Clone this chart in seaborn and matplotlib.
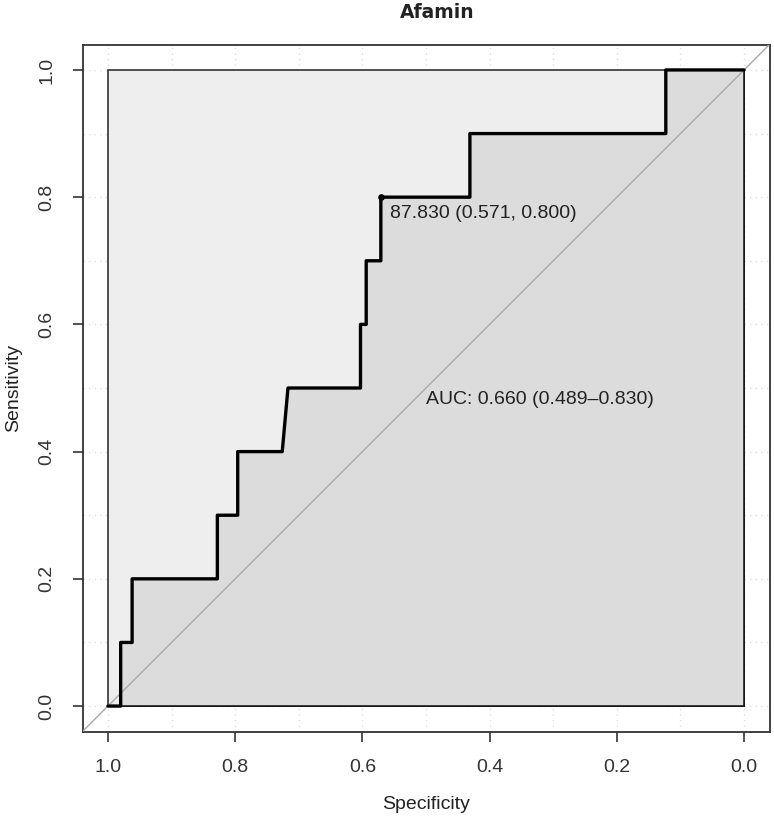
import matplotlib
matplotlib.use("Agg")
import matplotlib.pyplot as plt
import seaborn as sns
import pandas as pd
import numpy as np

# ---- data ----
specificity = [1.0, 0.980, 0.980, 0.962, 0.962, 0.828, 0.828, 0.796, 0.796,
               0.726, 0.717, 0.603, 0.603, 0.594, 0.594, 0.571, 0.571,
               0.431, 0.431, 0.123, 0.123, 0.0]
sensitivity = [0.0, 0.0, 0.1, 0.1, 0.2, 0.2, 0.3, 0.3, 0.4,
               0.4, 0.5, 0.5, 0.6, 0.6, 0.7, 0.7, 0.8,
               0.8, 0.9, 0.9, 1.0, 1.0]
best_spec = 0.571
best_sens = 0.800
best_threshold = 87.830
auc_value = 0.660
auc_ci = (0.489, 0.830)
x_ticks = [1.0, 0.8, 0.6, 0.4, 0.2, 0.0]
y_ticks = [0.0, 0.2, 0.4, 0.6, 0.8, 1.0]
grid_vals = [round(v * 0.1, 1) for v in range(11)]
title = "Afamin"

df = pd.DataFrame({"Specificity": specificity, "Sensitivity": sensitivity})

sns.set_style("ticks")
plt.rcParams["font.family"] = ["Liberation Sans", "DejaVu Sans"]
plt.rcParams["text.color"] = "#222222"
plt.rcParams["axes.labelcolor"] = "#222222"
plt.rcParams["xtick.color"] = "#333333"
plt.rcParams["ytick.color"] = "#333333"

fig = plt.figure(figsize=(7.74, 8.17), dpi=100)
ax = fig.add_axes([82.5 / 774, (817 - 731.5) / 817, 687 / 774, 687 / 817])

ax.set_xlim(1.04, -0.04)
ax.set_ylim(-0.04, 1.04)

# grid (dotted, beneath everything)
for g in grid_vals:
    ax.axvline(g, color="#DDDDDD", lw=1.0, ls=(0, (1, 3)), zorder=0)
    ax.axhline(g, color="#DDDDDD", lw=1.0, ls=(0, (1, 3)), zorder=0)

# max AUC polygon
ax.fill([1, 1, 0, 0], [0, 1, 1, 0], facecolor="#EEEEEE", edgecolor="#333333",
        lw=1.2, zorder=1)
# AUC polygon
poly_x = specificity + [0.0, 1.0]
poly_y = sensitivity + [0.0, 0.0]
ax.fill(poly_x, poly_y, facecolor="#DCDCDC", edgecolor="#111111", lw=1.2, zorder=2)

# identity line
ax.plot([1.04, -0.04], [-0.04, 1.04], color="#AAAAAA", lw=1.0, zorder=3)

# ROC curve
sns.lineplot(data=df, x="Specificity", y="Sensitivity", sort=False, estimator=None,
             color="black", lw=2.4, ax=ax, zorder=4)

# best threshold point and label
ax.scatter([best_spec], [best_sens], s=14, color="black", zorder=5)
ax.text(best_spec - 0.015, best_sens - 0.025,
        f"{best_threshold:.3f} ({best_spec:.3f}, {best_sens:.3f})",
        ha="left", va="center", fontsize=14, zorder=6)
ax.text(0.5, 0.4825, f"AUC: {auc_value:.3f} ({auc_ci[0]:.3f}\u2013{auc_ci[1]:.3f})",
        ha="left", va="center", fontsize=14, zorder=6)

ax.set_xticks(x_ticks)
ax.set_xticklabels([f"{v:.1f}" for v in x_ticks])
ax.set_yticks(y_ticks)
ax.set_yticklabels([f"{v:.1f}" for v in y_ticks], rotation=90, va="center")
ax.tick_params(axis="both", which="major", bottom=True, left=True,
               direction="out", length=7.5, width=1.2,
               labelsize=14, pad=12)
ax.set_xlabel("Specificity", fontsize=14, labelpad=15)
ax.set_ylabel("Sensitivity", fontsize=14, labelpad=12)

for s in ax.spines.values():
    s.set_visible(True)
    s.set_color("#333333")
    s.set_linewidth(1.3)

fig.text(437.5 / 774, 1 - 12 / 817, title, ha="center", va="center",
         fontsize=13.5, fontweight="bold", family="DejaVu Sans")

fig.savefig("out.png", dpi=100)
